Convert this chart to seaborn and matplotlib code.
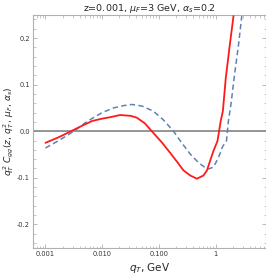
import matplotlib
matplotlib.use("Agg")
import matplotlib.pyplot as plt
import matplotlib.ticker as mticker
import numpy as np
import pandas as pd
import seaborn as sns

# values (x as log10 of q_T in GeV)
red_logq = [-3.0, -2.75, -2.55, -2.35, -2.175, -2.0, -1.862, -1.686, -1.5, -1.39, -1.25,
            -1.127, -0.95, -0.80, -0.68, -0.57, -0.45, -0.333, -0.217, -0.157, -0.04,
            0.03, 0.087, 0.125, 0.176, 0.247, 0.312]
red_vals = [-0.025, -0.012, 0.0, 0.012, 0.022, 0.027, 0.030, 0.0347, 0.033, 0.029, 0.017,
            0.0, -0.024, -0.047, -0.066, -0.084, -0.095, -0.102, -0.095, -0.0845, -0.042,
            -0.021, 0.022, 0.043, 0.114, 0.185, 0.247]

blue_logq = [-3.0, -2.75, -2.50, -2.30, -2.157, -2.0, -1.80, -1.62, -1.48, -1.30, -1.10,
             -0.92, -0.745, -0.60, -0.45, -0.30, -0.20, -0.126, -0.04, 0.05, 0.12,
             0.188, 0.223, 0.27, 0.323, 0.40, 0.458]
blue_vals = [-0.036, -0.019, 0.0, 0.018, 0.029, 0.040, 0.050, 0.055, 0.0574, 0.054, 0.043,
             0.024, 0.0, -0.025, -0.049, -0.068, -0.077, -0.081, -0.077, -0.056, -0.033,
             -0.021, 0.022, 0.060, 0.114, 0.185, 0.247]

x_ticks = [0.001, 0.01, 0.1, 1]
x_tick_labels = ["0.001", "0.010", "0.100", "1"]
y_ticks = [-0.2, -0.1, 0.0, 0.1, 0.2]

df = pd.concat([
    pd.DataFrame({"qT": 10 ** np.array(red_logq), "val": red_vals, "curve": "red"}),
    pd.DataFrame({"qT": 10 ** np.array(blue_logq), "val": blue_vals, "curve": "blue"}),
])

sns.set_style("ticks")
plt.rcParams["font.family"] = ["DejaVu Sans"]

fig = plt.figure(figsize=(2.66, 2.75), dpi=100)
ax = fig.add_axes([0.125, 0.0993, 0.874, 0.8472])

ax.axhline(0, color="#8c8c8c", lw=1.3, zorder=1)
sns.lineplot(data=df[df["curve"] == "red"], x="qT", y="val", color="#ff1a1a",
             lw=1.3, ax=ax, sort=False, zorder=3)
sns.lineplot(data=df[df["curve"] == "blue"], x="qT", y="val", color="#5e81b5",
             lw=1.1, ax=ax, sort=False, dashes=False, zorder=2)
ax.lines[-1].set_linestyle((0, (3.5, 2.2)))

ax.set_xscale("log")
ax.set_xlim(10 ** -3.215, 10 ** 0.88)
ax.set_ylim(-0.25, 0.25)

ax.set_xticks(x_ticks)
ax.set_xticklabels(x_tick_labels)
ax.xaxis.set_minor_locator(mticker.LogLocator(base=10, subs=np.arange(2, 10)))
ax.xaxis.set_minor_formatter(mticker.NullFormatter())
ax.set_yticks(y_ticks)
ax.set_yticklabels([f"{v:.1f}" for v in y_ticks])
ax.yaxis.set_minor_locator(mticker.MultipleLocator(0.02))

for s in ax.spines.values():
    s.set_color("#b0b0b0")
    s.set_linewidth(0.8)
ax.tick_params(which="both", direction="in", top=True, right=True, color="#b0b0b0",
               labelsize=4.8, labelcolor="#333333", pad=2.5)
ax.tick_params(which="major", length=3, width=0.6)
ax.tick_params(which="minor", length=1.8, width=0.5)

ax.set_xlabel(r"$q_T$, GeV", fontsize=7.5, labelpad=3)
ax.set_ylabel(r"$q_T^2\ C_{gg}(z,\, q_T^2,\, \mu_F,\, \alpha_s)$", fontsize=6.6)
ax.yaxis.set_label_coords(-0.074, 0.5)
ax.set_title(r"z=0.001, $\mu_F$=3 GeV, $\alpha_s$=0.2", fontsize=6.8, pad=3)

fig.savefig("out.png", dpi=100)
